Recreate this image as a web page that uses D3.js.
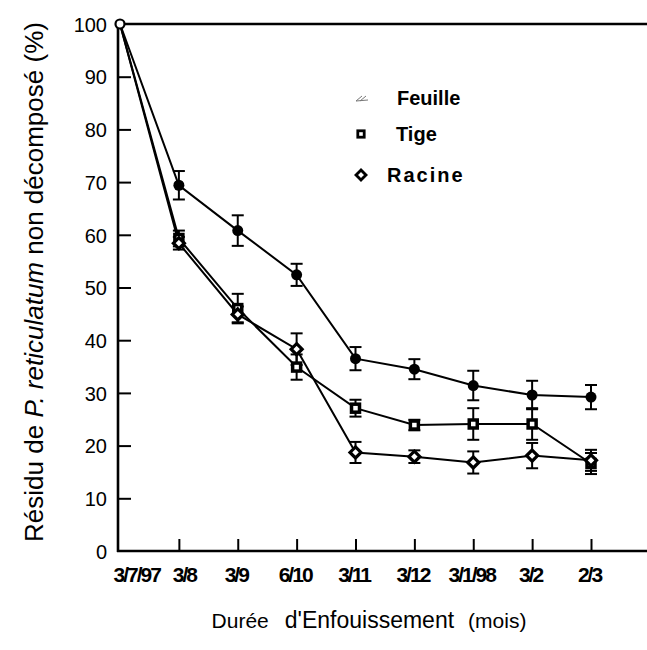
<!DOCTYPE html>
<html>
<head>
<meta charset="utf-8">
<script src="https://cdn.jsdelivr.net/npm/d3@7"></script>
<style>
  body { margin: 0; background: #fff; }
  text { font-family: "Liberation Sans", Arial, sans-serif; fill: #000; }
</style>
</head>
<body>
<div id="chart"></div>
<script>
// dates of sampling (x categories)
const dates = ['3/7/97', '3/8', '3/9', '6/10', '3/11', '3/12', '3/1/98', '3/2', '2/3'];

// residue (%) and error half-widths
const feuille = [100, 69.4, 60.8, 52.4, 36.5, 34.5, 31.4, 29.6, 29.2];
const feuilleErr = [0, 2.7, 2.9, 2.1, 2.2, 1.9, 2.8, 2.7, 2.3];
const tige = [100, 59.3, 46.0, 34.9, 27.1, 23.9, 24.1, 24.1, 16.6];
const tigeErr = [0, 1.5, 2.8, 2.4, 1.6, 1.0, 3.0, 3.0, 2.0];
const racine = [100, 58.4, 44.9, 38.3, 18.7, 17.9, 16.8, 18.1, 17.2];
const racineErr = [0, 1.2, 1.5, 3.0, 2.0, 1.2, 2.1, 2.4, 2.0];

const yTicks = [0, 10, 20, 30, 40, 50, 60, 70, 80, 90, 100];

const width = 647, height = 650;
const svg = d3.select('#chart').append('svg')
    .attr('width', width)
    .attr('height', height);

const x = d3.scalePoint()
    .domain(dates)
    .range([120, 591]);

const y = d3.scaleLinear()
    .domain([0, 100])
    .range([551, 24]);

// frame: left axis, bottom axis, top line
svg.append('line')
    .attr('x1', 118).attr('x2', 118)
    .attr('y1', y(100)).attr('y2', y(0) + 1)
    .attr('stroke', '#000').attr('stroke-width', 2.6);
svg.append('line')
    .attr('x1', 117).attr('x2', width)
    .attr('y1', y(0)).attr('y2', y(0))
    .attr('stroke', '#000').attr('stroke-width', 2.6);
svg.append('line')
    .attr('x1', 118).attr('x2', width)
    .attr('y1', y(100)).attr('y2', y(100))
    .attr('stroke', '#000').attr('stroke-width', 2.6);

// y ticks (inward) + labels
const yAxis = d3.axisLeft(y)
    .tickValues(yTicks)
    .tickSize(-13)
    .tickPadding(11);
const gy = svg.append('g')
    .attr('transform', 'translate(118,0)')
    .call(yAxis);
gy.select('.domain').remove();
gy.selectAll('.tick line')
    .attr('stroke-width', 2)
    .filter(d => d === 0 || d === 100).remove();
gy.selectAll('.tick text')
    .attr('font-size', 20)
    .attr('font-family', '"Liberation Sans", Arial, sans-serif')
    .attr('dy', '0.36em');

// x ticks (inward) + labels
const xAxis = d3.axisBottom(x)
    .tickSize(-12)
    .tickPadding(16);
const gx = svg.append('g')
    .attr('transform', `translate(0,${y(0)})`)
    .call(xAxis);
gx.select('.domain').remove();
gx.selectAll('.tick line')
    .attr('stroke-width', 2)
    .filter(d => d === dates[0]).remove();
gx.selectAll('.tick text')
    .attr('font-size', 21)
    .attr('font-weight', 'bold')
    .attr('letter-spacing', '-2px')
    .attr('font-family', '"Liberation Sans", Arial, sans-serif')
    .attr('text-anchor', d => d === dates[0] ? 'start' : 'middle')
    .attr('dx', d => d === dates[0] ? -7 : (d === '3/8' ? 5 : -2));

// axis titles
svg.append('text')
    .attr('transform', 'translate(43,282) rotate(-90)')
    .attr('text-anchor', 'middle')
    .attr('font-size', 26)
    .html('Résidu de <tspan font-style="italic">P. reticulatum</tspan> non décomposé (%)');

const xt = svg.append('text')
    .attr('x', 369).attr('y', 628)
    .attr('text-anchor', 'middle');
xt.append('tspan').attr('font-size', 21).text('Durée');
xt.append('tspan').attr('font-size', 23).attr('dx', 16).text("d'Enfouissement");
xt.append('tspan').attr('font-size', 21).attr('dx', 14).text('(mois)');

// series
const series = [
    { name: 'Feuille', vals: feuille, err: feuilleErr, shape: 'circle' },
    { name: 'Tige', vals: tige, err: tigeErr, shape: 'square' },
    { name: 'Racine', vals: racine, err: racineErr, shape: 'diamond' }
];

const line = d3.line()
    .x((d, i) => x(dates[i]))
    .y(d => y(d));

series.forEach(s => {
    svg.append('path')
        .attr('d', line(s.vals))
        .attr('fill', 'none')
        .attr('stroke', '#000')
        .attr('stroke-width', 2);
});

// error bars
series.forEach(s => {
    const g = svg.append('g').attr('stroke', '#000').attr('stroke-width', 2);
    s.vals.forEach((v, i) => {
        const e = s.err[i];
        if (!e) return;
        const cx = x(dates[i]);
        g.append('line').attr('x1', cx).attr('x2', cx).attr('y1', y(v + e)).attr('y2', y(v - e));
        g.append('line').attr('x1', cx - 6).attr('x2', cx + 6).attr('y1', y(v + e)).attr('y2', y(v + e));
        g.append('line').attr('x1', cx - 6).attr('x2', cx + 6).attr('y1', y(v - e)).attr('y2', y(v - e));
    });
});

function drawMarker(g, shape, cx, cy, k = 1) {
    if (shape === 'circle') {
        g.append('circle').attr('cx', cx).attr('cy', cy).attr('r', 5.5 * k).attr('fill', '#000');
    } else if (shape === 'square') {
        g.append('rect').attr('x', cx - 4 * k).attr('y', cy - 4 * k).attr('width', 8 * k).attr('height', 8 * k)
            .attr('fill', '#fff').attr('stroke', '#000').attr('stroke-width', 3.5 * k);
    } else {
        g.append('path')
            .attr('d', `M${cx},${cy - 5.5 * k}L${cx + 5.5 * k},${cy}L${cx},${cy + 5.5 * k}L${cx - 5.5 * k},${cy}Z`)
            .attr('fill', '#fff').attr('stroke', '#000').attr('stroke-width', 3.2 * k);
    }
}

series.forEach(s => {
    const g = svg.append('g');
    s.vals.forEach((v, i) => {
        if (i === 0) return;
        drawMarker(g, s.shape, x(dates[i]), y(v));
    });
});

// common starting point (open circle)
svg.append('circle')
    .attr('cx', x(dates[0])).attr('cy', y(100)).attr('r', 4.5)
    .attr('fill', '#fff').attr('stroke', '#000').attr('stroke-width', 2.2);

// legend
const legendY = [98, 134, 175];
const lg = svg.append('g');
// Feuille: faint hatch symbol
lg.append('path')
    .attr('d', 'M356,101 L362,96 M360,101 L366,96 M356,101 L368,100')
    .attr('stroke', '#777').attr('stroke-width', 1).attr('fill', 'none');
drawMarker(lg, 'square', 361, legendY[1], 0.8);
drawMarker(lg, 'diamond', 361, legendY[2], 0.9);
lg.append('text').attr('x', 397).attr('y', legendY[0]).attr('dy', '0.35em')
    .attr('font-size', 20).attr('font-weight', 'bold').text('Feuille');
lg.append('text').attr('x', 396).attr('y', legendY[1]).attr('dy', '0.35em')
    .attr('font-size', 20).attr('font-weight', 'bold').text('Tige');
lg.append('text').attr('x', 387).attr('y', legendY[2]).attr('dy', '0.35em')
    .attr('font-size', 20).attr('font-weight', 'bold').attr('letter-spacing', '2px').text('Racine');
</script>
</body>
</html>
